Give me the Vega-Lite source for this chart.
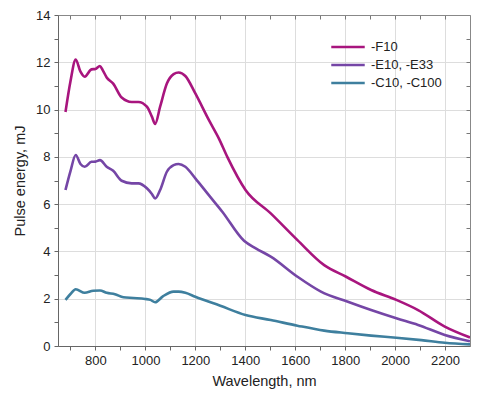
{
  "$schema": "https://vega.github.io/schema/vega-lite/v6.json",
  "width": 412,
  "height": 331,
  "autosize": {"type": "none"},
  "padding": {"left": 58, "top": 15, "right": 9, "bottom": 52},
  "background": "white",
  "config": {
    "font": "Liberation Sans",
    "view": {"stroke": "#888888", "strokeWidth": 1}
  },
  "data": {
    "values": [
      {"series": "-F10", "w": 680, "e": 9.9},
      {"series": "-F10", "w": 700, "e": 11.2},
      {"series": "-F10", "w": 721, "e": 12.12},
      {"series": "-F10", "w": 740, "e": 11.6},
      {"series": "-F10", "w": 757, "e": 11.39},
      {"series": "-F10", "w": 784, "e": 11.7},
      {"series": "-F10", "w": 800, "e": 11.72},
      {"series": "-F10", "w": 818, "e": 11.84},
      {"series": "-F10", "w": 830, "e": 11.65},
      {"series": "-F10", "w": 845, "e": 11.36},
      {"series": "-F10", "w": 871, "e": 11.1},
      {"series": "-F10", "w": 905, "e": 10.51},
      {"series": "-F10", "w": 945, "e": 10.32},
      {"series": "-F10", "w": 972, "e": 10.32},
      {"series": "-F10", "w": 1006, "e": 10.12},
      {"series": "-F10", "w": 1026, "e": 9.7},
      {"series": "-F10", "w": 1039, "e": 9.39},
      {"series": "-F10", "w": 1059, "e": 10.12},
      {"series": "-F10", "w": 1086, "e": 11.1},
      {"series": "-F10", "w": 1113, "e": 11.5},
      {"series": "-F10", "w": 1133, "e": 11.57},
      {"series": "-F10", "w": 1160, "e": 11.42},
      {"series": "-F10", "w": 1200, "e": 10.68},
      {"series": "-F10", "w": 1254, "e": 9.56},
      {"series": "-F10", "w": 1294, "e": 8.78},
      {"series": "-F10", "w": 1328, "e": 8.0},
      {"series": "-F10", "w": 1401, "e": 6.6},
      {"series": "-F10", "w": 1502, "e": 5.61},
      {"series": "-F10", "w": 1609, "e": 4.48},
      {"series": "-F10", "w": 1716, "e": 3.42},
      {"series": "-F10", "w": 1804, "e": 2.93},
      {"series": "-F10", "w": 1904, "e": 2.37},
      {"series": "-F10", "w": 2005, "e": 1.95},
      {"series": "-F10", "w": 2092, "e": 1.52},
      {"series": "-F10", "w": 2199, "e": 0.82},
      {"series": "-F10", "w": 2300, "e": 0.36},
      {"series": "-E10, -E33", "w": 680, "e": 6.6},
      {"series": "-E10, -E33", "w": 700, "e": 7.4},
      {"series": "-E10, -E33", "w": 721, "e": 8.08},
      {"series": "-E10, -E33", "w": 740, "e": 7.7},
      {"series": "-E10, -E33", "w": 757, "e": 7.58},
      {"series": "-E10, -E33", "w": 784, "e": 7.79},
      {"series": "-E10, -E33", "w": 800, "e": 7.8},
      {"series": "-E10, -E33", "w": 818, "e": 7.86},
      {"series": "-E10, -E33", "w": 845, "e": 7.58},
      {"series": "-E10, -E33", "w": 871, "e": 7.41},
      {"series": "-E10, -E33", "w": 905, "e": 6.99},
      {"series": "-E10, -E33", "w": 945, "e": 6.88},
      {"series": "-E10, -E33", "w": 972, "e": 6.88},
      {"series": "-E10, -E33", "w": 1006, "e": 6.67},
      {"series": "-E10, -E33", "w": 1026, "e": 6.43},
      {"series": "-E10, -E33", "w": 1039, "e": 6.24},
      {"series": "-E10, -E33", "w": 1059, "e": 6.6},
      {"series": "-E10, -E33", "w": 1086, "e": 7.37},
      {"series": "-E10, -E33", "w": 1113, "e": 7.65},
      {"series": "-E10, -E33", "w": 1133, "e": 7.7},
      {"series": "-E10, -E33", "w": 1160, "e": 7.58},
      {"series": "-E10, -E33", "w": 1200, "e": 7.09},
      {"series": "-E10, -E33", "w": 1254, "e": 6.38},
      {"series": "-E10, -E33", "w": 1308, "e": 5.68},
      {"series": "-E10, -E33", "w": 1395, "e": 4.45},
      {"series": "-E10, -E33", "w": 1442, "e": 4.13},
      {"series": "-E10, -E33", "w": 1502, "e": 3.78},
      {"series": "-E10, -E33", "w": 1609, "e": 2.93},
      {"series": "-E10, -E33", "w": 1703, "e": 2.3},
      {"series": "-E10, -E33", "w": 1811, "e": 1.87},
      {"series": "-E10, -E33", "w": 1904, "e": 1.52},
      {"series": "-E10, -E33", "w": 2005, "e": 1.17},
      {"series": "-E10, -E33", "w": 2092, "e": 0.89},
      {"series": "-E10, -E33", "w": 2199, "e": 0.47},
      {"series": "-E10, -E33", "w": 2300, "e": 0.2},
      {"series": "-C10, -C100", "w": 680, "e": 1.95},
      {"series": "-C10, -C100", "w": 700, "e": 2.2},
      {"series": "-C10, -C100", "w": 721, "e": 2.4},
      {"series": "-C10, -C100", "w": 757, "e": 2.25},
      {"series": "-C10, -C100", "w": 791, "e": 2.34},
      {"series": "-C10, -C100", "w": 818, "e": 2.35},
      {"series": "-C10, -C100", "w": 845, "e": 2.25},
      {"series": "-C10, -C100", "w": 878, "e": 2.19},
      {"series": "-C10, -C100", "w": 912, "e": 2.06},
      {"series": "-C10, -C100", "w": 952, "e": 2.03},
      {"series": "-C10, -C100", "w": 999, "e": 1.99},
      {"series": "-C10, -C100", "w": 1020, "e": 1.95},
      {"series": "-C10, -C100", "w": 1039, "e": 1.85},
      {"series": "-C10, -C100", "w": 1070, "e": 2.1},
      {"series": "-C10, -C100", "w": 1113, "e": 2.3},
      {"series": "-C10, -C100", "w": 1133, "e": 2.3},
      {"series": "-C10, -C100", "w": 1160, "e": 2.25},
      {"series": "-C10, -C100", "w": 1200, "e": 2.08},
      {"series": "-C10, -C100", "w": 1300, "e": 1.7},
      {"series": "-C10, -C100", "w": 1401, "e": 1.31},
      {"series": "-C10, -C100", "w": 1502, "e": 1.1},
      {"series": "-C10, -C100", "w": 1609, "e": 0.86},
      {"series": "-C10, -C100", "w": 1716, "e": 0.65},
      {"series": "-C10, -C100", "w": 1811, "e": 0.54},
      {"series": "-C10, -C100", "w": 1904, "e": 0.44},
      {"series": "-C10, -C100", "w": 2005, "e": 0.35},
      {"series": "-C10, -C100", "w": 2105, "e": 0.25},
      {"series": "-C10, -C100", "w": 2199, "e": 0.14},
      {"series": "-C10, -C100", "w": 2300, "e": 0.07}
    ]
  },
  "layer": [
    {
      "mark": {"type": "line", "interpolate": "monotone", "strokeWidth": 2.6, "clip": true},
      "encoding": {
        "x": {
          "field": "w", "type": "quantitative",
          "scale": {"domain": [650, 2300], "nice": false, "zero": false},
          "axis": {
            "title": "Wavelength, nm",
            "titleFontSize": 14.5, "titleFontWeight": "normal", "titleColor": "#222222", "titlePadding": 7,
            "values": [700, 800, 900, 1000, 1100, 1200, 1300, 1400, 1500, 1600, 1700, 1800, 1900, 2000, 2100, 2200],
            "labelExpr": "datum.value % 200 === 0 ? format(datum.value, 'd') : ''",
            "labelFontSize": 13, "labelColor": "#222222", "labelPadding": 4,
            "tickSize": 4, "tickColor": "#666666",
            "domainColor": "#666666",
            "grid": true, "gridColor": "#dddddd",
            "gridOpacity": {"condition": {"test": "datum.value % 200 === 0", "value": 1}, "value": 0}
          }
        },
        "y": {
          "field": "e", "type": "quantitative",
          "scale": {"domain": [0, 14], "nice": false},
          "axis": {
            "title": "Pulse energy, mJ",
            "titleFontSize": 14.5, "titleFontWeight": "normal", "titleColor": "#222222", "titlePadding": 8,
            "values": [0, 1, 2, 3, 4, 5, 6, 7, 8, 9, 10, 11, 12, 13, 14],
            "labelExpr": "datum.value % 2 === 0 ? format(datum.value, 'd') : ''",
            "labelFontSize": 13, "labelColor": "#222222", "labelPadding": 4,
            "tickSize": 4, "tickColor": "#666666",
            "domainColor": "#666666",
            "grid": true, "gridColor": "#dddddd",
            "gridOpacity": {"condition": {"test": "datum.value % 2 === 0", "value": 1}, "value": 0}
          }
        },
        "color": {
          "field": "series", "type": "nominal",
          "scale": {"domain": ["-F10", "-E10, -E33", "-C10, -C100"], "range": ["#a8157e", "#7546a6", "#3e7f9e"]},
          "legend": {
            "title": null, "orient": "none", "legendX": 280, "legendY": 22,
            "symbolType": "M-2,0H2", "symbolSize": 280, "symbolStrokeWidth": 2.6,
            "labelFontSize": 13, "labelColor": "#222222", "labelOffset": 13,
            "rowPadding": 1, "padding": 0
          }
        }
      }
    },
    {
      "mark": {"type": "point", "opacity": 0},
      "encoding": {
        "x": {
          "field": "w", "type": "quantitative",
          "axis": {
            "orient": "top", "title": null, "labels": false, "grid": false,
            "values": [700, 800, 900, 1000, 1100, 1200, 1300, 1400, 1500, 1600, 1700, 1800, 1900, 2000, 2100, 2200],
            "tickSize": -4, "tickColor": "#777777", "domainColor": "#888888"
          }
        },
        "y": {
          "field": "e", "type": "quantitative",
          "axis": {
            "orient": "right", "title": null, "labels": false, "grid": false,
            "values": [1, 2, 3, 4, 5, 6, 7, 8, 9, 10, 11, 12, 13],
            "tickSize": -4, "tickColor": "#777777", "domainColor": "#888888"
          }
        }
      }
    }
  ],
  "resolve": {"axis": {"x": "independent", "y": "independent"}}
}
